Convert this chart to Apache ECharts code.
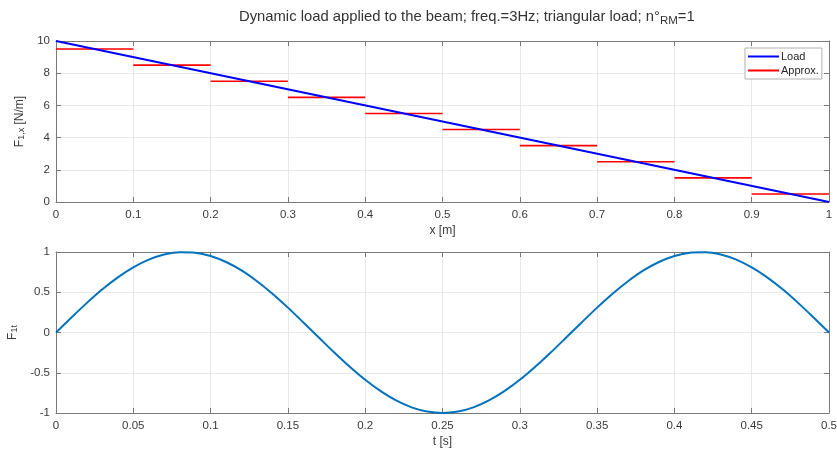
<!DOCTYPE html>
<html><head><meta charset="utf-8">
<script src="https://cdn.jsdelivr.net/npm/echarts@6/dist/echarts.min.js"></script>
<style>html,body{margin:0;padding:0;background:#fff}#c{width:837px;height:453px}</style>
</head><body><div id="c"></div>
<script>
// Top subplot data
const loadX = [0, 1];
const loadY = [10, 0];
const approxX0 = [0, 0.1, 0.2, 0.3, 0.4, 0.5, 0.6, 0.7, 0.8, 0.9];
const approxX1 = [0.1, 0.2, 0.3, 0.4, 0.5, 0.6, 0.7, 0.8, 0.9, 1.0];
const approxY = [9.5, 8.5, 7.5, 6.5, 5.5, 4.5, 3.5, 2.5, 1.5, 0.5];
const xTicksTop = [0, 0.1, 0.2, 0.3, 0.4, 0.5, 0.6, 0.7, 0.8, 0.9, 1];
const yTicksTop = [0, 2, 4, 6, 8, 10];
// Bottom subplot data
const tVals = [0,0.01,0.02,0.03,0.04,0.05,0.06,0.07,0.08,0.09,0.1,0.11,0.12,0.13,0.14,0.15,0.16,0.17,0.18,0.19,0.2,0.21,0.22,0.23,0.24,0.25,0.26,0.27,0.28,0.29,0.3,0.31,0.32,0.33,0.34,0.35,0.36,0.37,0.38,0.39,0.4,0.41,0.42,0.43,0.44,0.45,0.46,0.47,0.48,0.49,0.5];
const fVals = [0,0.187,0.368,0.536,0.685,0.809,0.905,0.969,0.998,0.992,0.951,0.876,0.771,0.637,0.482,0.309,0.125,-0.063,-0.249,-0.426,-0.588,-0.729,-0.844,-0.930,-0.982,-1.000,-0.982,-0.930,-0.844,-0.729,-0.588,-0.426,-0.249,-0.063,0.125,0.309,0.482,0.637,0.771,0.876,0.951,0.992,0.998,0.969,0.905,0.809,0.685,0.536,0.368,0.187,0];
const xTicksBot = [0, 0.05, 0.1, 0.15, 0.2, 0.25, 0.3, 0.35, 0.4, 0.45, 0.5];
const yTicksBot = [-1, -0.5, 0, 0.5, 1];

const FONT = 'Liberation Sans, Arial, sans-serif';
const AXC = '#7a7a7a';
const TXT = '#3a3a3a';

const approxData = [];
for (let i = 0; i < approxY.length; i++) {
  approxData.push([approxX0[i], approxY[i]], [approxX1[i], approxY[i]], [approxX1[i], '-']);
}
const loadData = loadX.map((x, i) => [x, loadY[i]]);
const sineData = tVals.map((t, i) => [t, fVals[i]]);

function fmt(v){ return String(+v.toFixed(3)); }

function xAxis(gi, min, max, interval, name, showLabels) {
  return {
    type: 'value', gridIndex: gi, min, max, interval,
    position: showLabels ? 'bottom' : 'top',
    name: showLabels ? name : '',
    nameLocation: 'middle', nameGap: 23,
    nameTextStyle: { fontFamily: FONT, fontSize: 12, color: TXT },
    axisLine: { show: true, onZero: false, lineStyle: { color: AXC, width: 1 } },
    axisTick: { show: true, inside: true, length: 5, lineStyle: { color: AXC } },
    axisLabel: { show: showLabels, fontFamily: FONT, fontSize: 11.5, color: TXT, margin: 7, formatter: fmt },
    splitLine: { show: showLabels, lineStyle: { color: '#e8e8e8', width: 1 } }
  };
}
function yAxis(gi, min, max, interval, name, showLabels, gap) {
  return {
    type: 'value', gridIndex: gi, min, max, interval,
    position: showLabels ? 'left' : 'right',
    name: showLabels ? name : '',
    nameLocation: 'middle', nameGap: gap || 32, nameRotate: 90,
    nameTextStyle: { fontFamily: FONT, fontSize: 12, color: TXT,
      rich: {
        m: { fontFamily: FONT, fontSize: 12, color: TXT, lineHeight: 14 },
        s: { fontFamily: FONT, fontSize: 9, color: TXT, lineHeight: 14, verticalAlign: 'bottom', padding: [7, 0, 0, 0] }
      } },
    axisLine: { show: true, onZero: false, lineStyle: { color: AXC, width: 1 } },
    axisTick: { show: true, inside: true, length: 5, lineStyle: { color: AXC } },
    axisLabel: { show: showLabels, fontFamily: FONT, fontSize: 11.5, color: TXT, margin: 6, formatter: fmt },
    splitLine: { show: showLabels, lineStyle: { color: '#e8e8e8', width: 1 } }
  };
}

const chart = echarts.init(document.getElementById('c'), null, { renderer: 'canvas' });
chart.setOption({
  animation: false,
  backgroundColor: '#fff',
  title: {
    text: '{m|Dynamic load applied to the beam; freq.=3Hz; triangular load; n°}{s|RM}{m|=1}',
    left: 234, top: 2,
    textStyle: { fontWeight: 'normal', rich: {
      m: { fontFamily: FONT, fontSize: 14.8, fontWeight: 'normal', color: '#333', lineHeight: 20 },
      s: { fontFamily: FONT, fontSize: 11.5, fontWeight: 'normal', color: '#333', lineHeight: 20, verticalAlign: 'bottom', padding: [9, 0, 0, 0] }
    } }
  },
  legend: {
    orient: 'vertical', left: 745, top: 48,
    backgroundColor: '#fff', borderColor: '#b0b0b0', borderWidth: 1, borderRadius: 0,
    padding: [3, 3, 3, 3], itemGap: 3,
    itemWidth: 31, itemHeight: 2, icon: 'rect',
    textStyle: { fontFamily: FONT, fontSize: 11, color: '#262626', padding: [0, 0, 0, -3] },
    data: ['Load', 'Approx.']
  },
  grid: [
    { left: 56, right: 8, top: 41, height: 161, show: false, containLabel: false, outerBoundsMode: 'none' },
    { left: 56, right: 8, top: 252, height: 161, show: false, containLabel: false, outerBoundsMode: 'none' }
  ],
  xAxis: [
    xAxis(0, 0, 1, 0.1, 'x [m]', true),
    xAxis(0, 0, 1, 0.1, '', false),
    xAxis(1, 0, 0.5, 0.05, 't [s]', true),
    xAxis(1, 0, 0.5, 0.05, '', false)
  ],
  yAxis: [
    yAxis(0, 0, 10, 2, '{m|F}{s|1,x}{m| [N/m]}', true, 25),
    yAxis(0, 0, 10, 2, '', false),
    yAxis(1, -1, 1, 0.5, '{m|F}{s|1t}', true, 29),
    yAxis(1, -1, 1, 0.5, '', false)
  ],
  series: [
    { name: 'Load', type: 'line', xAxisIndex: 0, yAxisIndex: 0, data: loadData,
      showSymbol: false, symbol: 'none', lineStyle: { color: '#0000ff', width: 2 }, itemStyle: { color: '#0000ff' }, z: 3 },
    { name: 'Approx.', type: 'line', xAxisIndex: 0, yAxisIndex: 0, data: approxData,
      showSymbol: false, symbol: 'none', connectNulls: false, lineStyle: { color: '#ff0000', width: 1.6 }, itemStyle: { color: '#ff0000' }, z: 2 },
    { name: 'F1t', type: 'line', xAxisIndex: 2, yAxisIndex: 2, data: sineData, smooth: 0.3,
      showSymbol: false, symbol: 'none', lineStyle: { color: '#0072BD', width: 2 }, itemStyle: { color: '#0072BD' } }
  ]
});
</script></body></html>
